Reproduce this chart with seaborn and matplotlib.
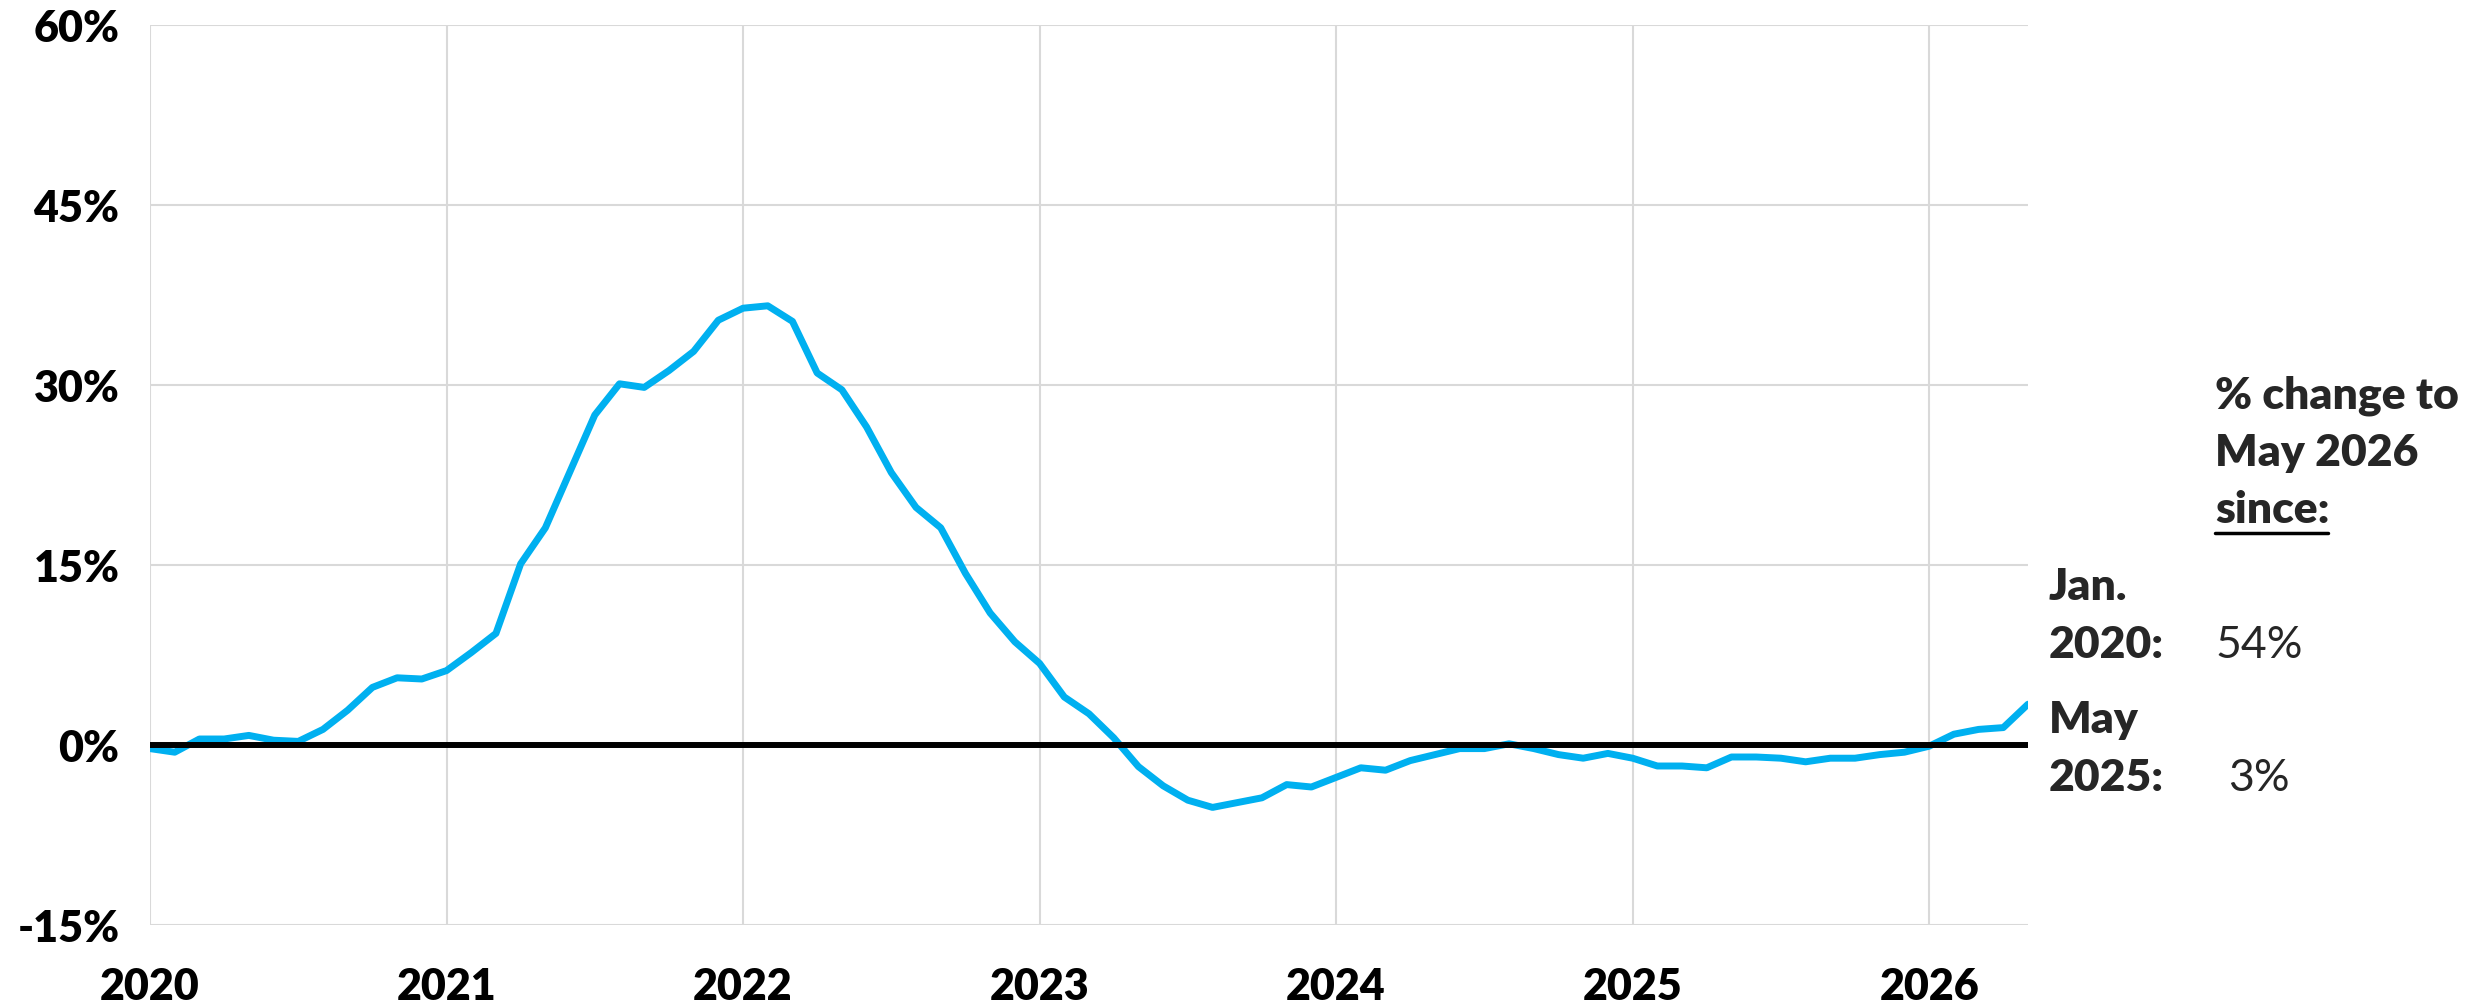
import matplotlib
matplotlib.use("Agg")
import matplotlib.pyplot as plt
import seaborn as sns
import pandas as pd
import numpy as np

# monthly % change series, Jan 2020 .. May 2026
pct_change = [
    -0.3, -0.6, 0.5, 0.5, 0.8, 0.4, 0.3, 1.3, 2.9, 4.8, 5.6, 5.5,          # 2020
    6.2, 7.7, 9.3, 15.1, 18.1, 22.8, 27.5, 30.1, 29.8, 31.2, 32.8, 35.4,   # 2021
    36.4, 36.6, 35.3, 31.0, 29.6, 26.5, 22.7, 19.8, 18.1, 14.3, 11.0, 8.6, # 2022
    6.8, 4.0, 2.6, 0.6, -1.8, -3.4, -4.6, -5.2, -4.8, -4.4, -3.3, -3.5,    # 2023
    -2.7, -1.9, -2.1, -1.3, -0.8, -0.3, -0.3, 0.1, -0.3, -0.8, -1.1, -0.7, # 2024
    -1.1, -1.75, -1.75, -1.9, -1.0, -1.0, -1.1, -1.4, -1.1, -1.1, -0.8, -0.6, # 2025
    -0.1, 0.9, 1.3, 1.45, 3.4,                                              # 2026
]
year_labels = ["2020", "2021", "2022", "2023", "2024", "2025", "2026"]
y_ticks = [-15, 0, 15, 30, 45, 60]

header_lines = ["% change to", "May 2026"]
since_label = "since:"
since_rows = [("Jan.", "2020:", "54%"), ("May", "2025:", "3%")]

df = pd.DataFrame({"month": np.arange(len(pct_change)), "pct": pct_change})

sns.set_theme(style="whitegrid")
plt.rcParams["font.family"] = ["Lato", "DejaVu Sans"]

fig = plt.figure(figsize=(24.76, 10.07), dpi=100)
ax = fig.add_axes([150 / 2476, 1 - 925 / 1007, (2028 - 150) / 2476, 900 / 1007])

sns.lineplot(data=df, x="month", y="pct", color="#00B0F0", linewidth=5, ax=ax, zorder=3)
ax.axhline(0, color="black", linewidth=4.3, zorder=4)

ax.set_xlim(0, len(pct_change) - 1)
ax.set_ylim(-15, 60)
ax.set_xticks(np.arange(len(year_labels)) * 12)
ax.set_xticklabels(year_labels)
ax.set_yticks(y_ticks)
ax.set_yticklabels([f"{v}%" for v in y_ticks])
ax.set_xlabel("")
ax.set_ylabel("")

ax.grid(True, color="#d9d9d9", linewidth=1.5)
for s in ax.spines.values():
    s.set_visible(False)
ax.tick_params(axis="y", length=0, pad=22, labelsize=31)
ax.tick_params(axis="x", length=0, pad=30, labelsize=31)
for lab in ax.get_xticklabels() + ax.get_yticklabels():
    lab.set_fontweight("heavy")
    lab.set_color("black")

# right-hand annotation block
fs = 32
W, H = 2476, 1007
for i, line in enumerate(header_lines):
    fig.text(2215 / W, 1 - (408 + i * 58) / H, line, fontsize=fs, fontweight="heavy", va="baseline")
fig.text(2215 / W, 1 - 523 / H, since_label, fontsize=fs, fontweight="heavy", va="baseline")
fig.add_artist(plt.Line2D([2215 / W, 2328 / W], [1 - 533 / H, 1 - 533 / H], color="black", linewidth=2.5))

row_y = [600, 733]
val_x = [2215, 2228]
for (a, b, val), y0, vx in zip(since_rows, row_y, val_x):
    fig.text(2049 / W, 1 - y0 / H, a, fontsize=fs, fontweight="heavy", va="baseline")
    fig.text(2049 / W, 1 - (y0 + 58) / H, b, fontsize=fs, fontweight="heavy", va="baseline")
    fig.text(vx / W, 1 - (y0 + 58) / H, val, fontsize=fs, va="baseline")

fig.savefig("out.png", dpi=100)
